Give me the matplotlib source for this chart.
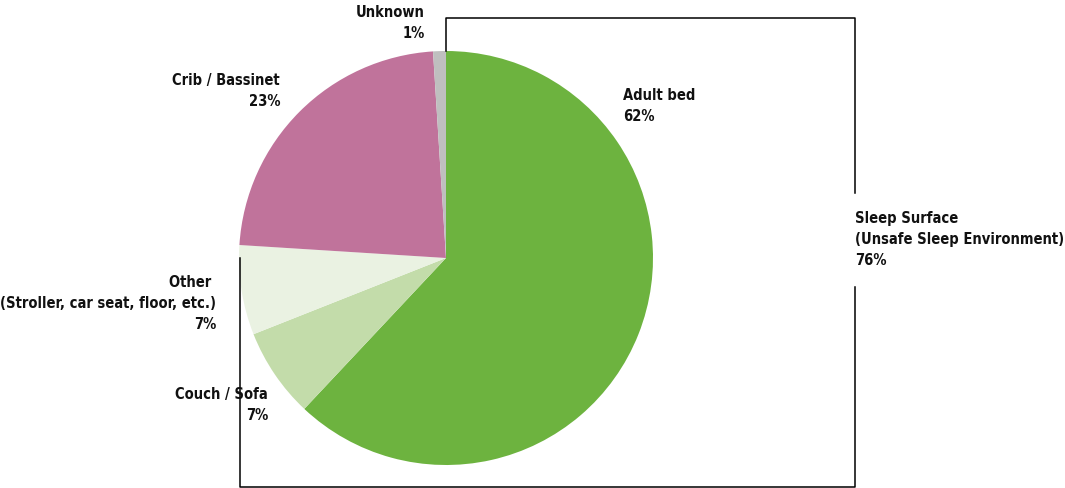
import matplotlib.pyplot as plt

plt.rcParams['font.family'] = ['DejaVu Sans']

# slices clockwise from 12 o'clock
labels = ['Adult bed', 'Couch / Sofa', 'Other \n(Stroller, car seat, floor, etc.)', 'Crib / Bassinet', 'Unknown']
values = [62, 7, 7, 23, 1]
colors = ['#6db33f', '#c3dcaa', '#eaf2e2', '#c0739b', '#bfbfbf']

group_label = 'Sleep Surface\n(Unsafe Sleep Environment)'
group_value = sum(values[:3])

W, H = 1065, 488
fig = plt.figure(figsize=(W / 100, H / 100), dpi=100)
ax = fig.add_axes([0, 0, 1, 1])

cx, cy, r = 446, H - 258, 207
ax.pie(values, colors=colors, startangle=90, counterclock=False,
       center=(cx, cy), radius=r, frame=True,
       wedgeprops=dict(linewidth=0))
ax.set_xlim(0, W)
ax.set_ylim(0, H)
ax.axis('off')


def py(y):
    return H - y


# bracket around the sleep-surface slices
ax.plot([240, 240, 855, 855], [py(258), py(487), py(487), py(287)], color='black', lw=1.1)
ax.plot([855, 855, 446, 446], [py(193), py(18), py(18), py(51)], color='black', lw=1.1)

kw = dict(fontsize=10.5, fontweight='bold', fontstretch='condensed',
          color='#111111', linespacing=1.5)

# (x, top y, alignment) for each slice label
pos = [(623, 88, 'left'), (268, 387, 'right'), (216, 275, 'right'),
       (280, 73, 'right'), (425, 5, 'right')]
for lab, val, (x, y, ha) in zip(labels, values, pos):
    ax.text(x, py(y), f'{lab}\n{val}%', ha=ha, va='top', multialignment=ha, **kw)

ax.text(855, py(211), f'{group_label}\n{group_value}%', ha='left', va='top', **kw)

fig.savefig('out.png', dpi=100)
